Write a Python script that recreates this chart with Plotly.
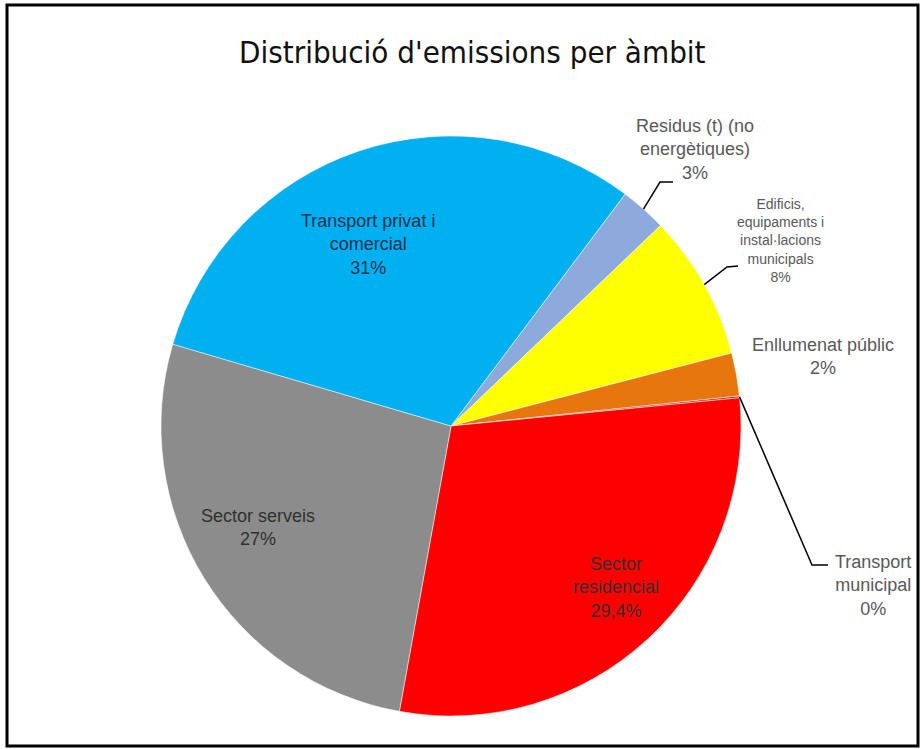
import math
import plotly.graph_objects as go

# ---- data ----
categories = [
    "Residus (t) (no energètiques)",
    "Edificis, equipaments i instal·lacions municipals",
    "Enllumenat públic",
    "Transport municipal",
    "Sector residencial",
    "Sector serveis",
    "Transport privat i comercial",
]
values = [2.6, 8.1, 2.4, 0.1, 29.4, 26.7, 30.7]
pct_labels = ["3%", "8%", "2%", "0%", "29,4%", "27%", "31%"]
label_lines = [
    "Residus (t) (no<br>energètiques)",
    "Edificis,<br>equipaments i<br>instal·lacions<br>municipals",
    "Enllumenat públic",
    "Transport<br>municipal",
    "Sector<br>residencial",
    "Sector serveis",
    "Transport privat i<br>comercial",
]
colors = ["#8EA9DB", "#FFFF00", "#E8760E", "#B02020", "#FF0000", "#8C8C8C", "#00B0F0"]

# ---- layout constants (pixels) ----
W, H = 921, 749
CX, CY, R = 451, 426, 290
ROTATION = 36.9


def px(x):
    return x / W


def py(y):
    return 1 - y / H


fig = go.Figure(go.Pie(
    labels=categories,
    values=values,
    sort=False,
    direction="clockwise",
    rotation=ROTATION,
    marker=dict(colors=colors, line=dict(color="white", width=0.5)),
    textinfo="none",
    hoverinfo="label+percent",
    showlegend=False,
    domain=dict(x=[px(CX - R), px(CX + R)], y=[py(CY + R), py(CY - R)]),
))

# label positions (center of text block) and font sizes
label_pos = [(695, 150, 18), (780, 240, 14), (823, 357, 18), (873, 585, 18),
             (616, 587, 18), (258, 527, 18), (368, 245, 18)]
label_col = ["#595959", "#595959", "#595959", "#595959", "#303030", "#303030", "#203050"]

annotations = []
for i, (lx, ly, fs) in enumerate(label_pos):
    annotations.append(dict(
        x=px(lx), y=py(ly), xref="paper", yref="paper",
        text=label_lines[i] + "<br>" + pct_labels[i],
        showarrow=False, xanchor="center", yanchor="middle", align="center",
        font=dict(family="Liberation Sans, Arial", size=fs, color=label_col[i]),
    ))

annotations.append(dict(
    x=px(472), y=py(52), xref="paper", yref="paper",
    text="Distribució d'emissions per àmbit", showarrow=False,
    xanchor="center", yanchor="middle",
    font=dict(family="DejaVu Sans Condensed", size=31, color="#111111"),
))

# leader lines: start on the slice's mid-angle (derived from data)
total = sum(values)
cum = 0
mid_angles = []
for v in values:
    mid_angles.append(ROTATION + (cum + v / 2) / total * 360)
    cum += v

leaders = {0: [(660, 182), (673, 182)], 1: [(727, 267), (738, 266)], 3: [(812, 565), (828, 565)]}
shapes = []
for idx, pts in leaders.items():
    a = math.radians(mid_angles[idx])
    sx, sy = CX + R * math.sin(a), CY - R * math.cos(a)
    path_pts = [(sx, sy)] + pts
    path = "M " + " L ".join(f"{px(x)},{py(y)}" for x, y in path_pts)
    shapes.append(dict(type="path", xref="paper", yref="paper", path=path,
                       line=dict(color="black", width=1.5)))

shapes.append(dict(type="rect", xref="paper", yref="paper",
                   x0=px(7), x1=px(918), y0=py(746), y1=py(5),
                   line=dict(color="black", width=3)))

fig.update_layout(
    width=W, height=H,
    margin=dict(l=0, r=0, t=0, b=0),
    paper_bgcolor="white", plot_bgcolor="white",
    annotations=annotations, shapes=shapes,
)

fig.write_html("out.html", config={"displayModeBar": False},
               post_script="document.body.style.margin='0px';document.body.style.overflow='hidden';")
